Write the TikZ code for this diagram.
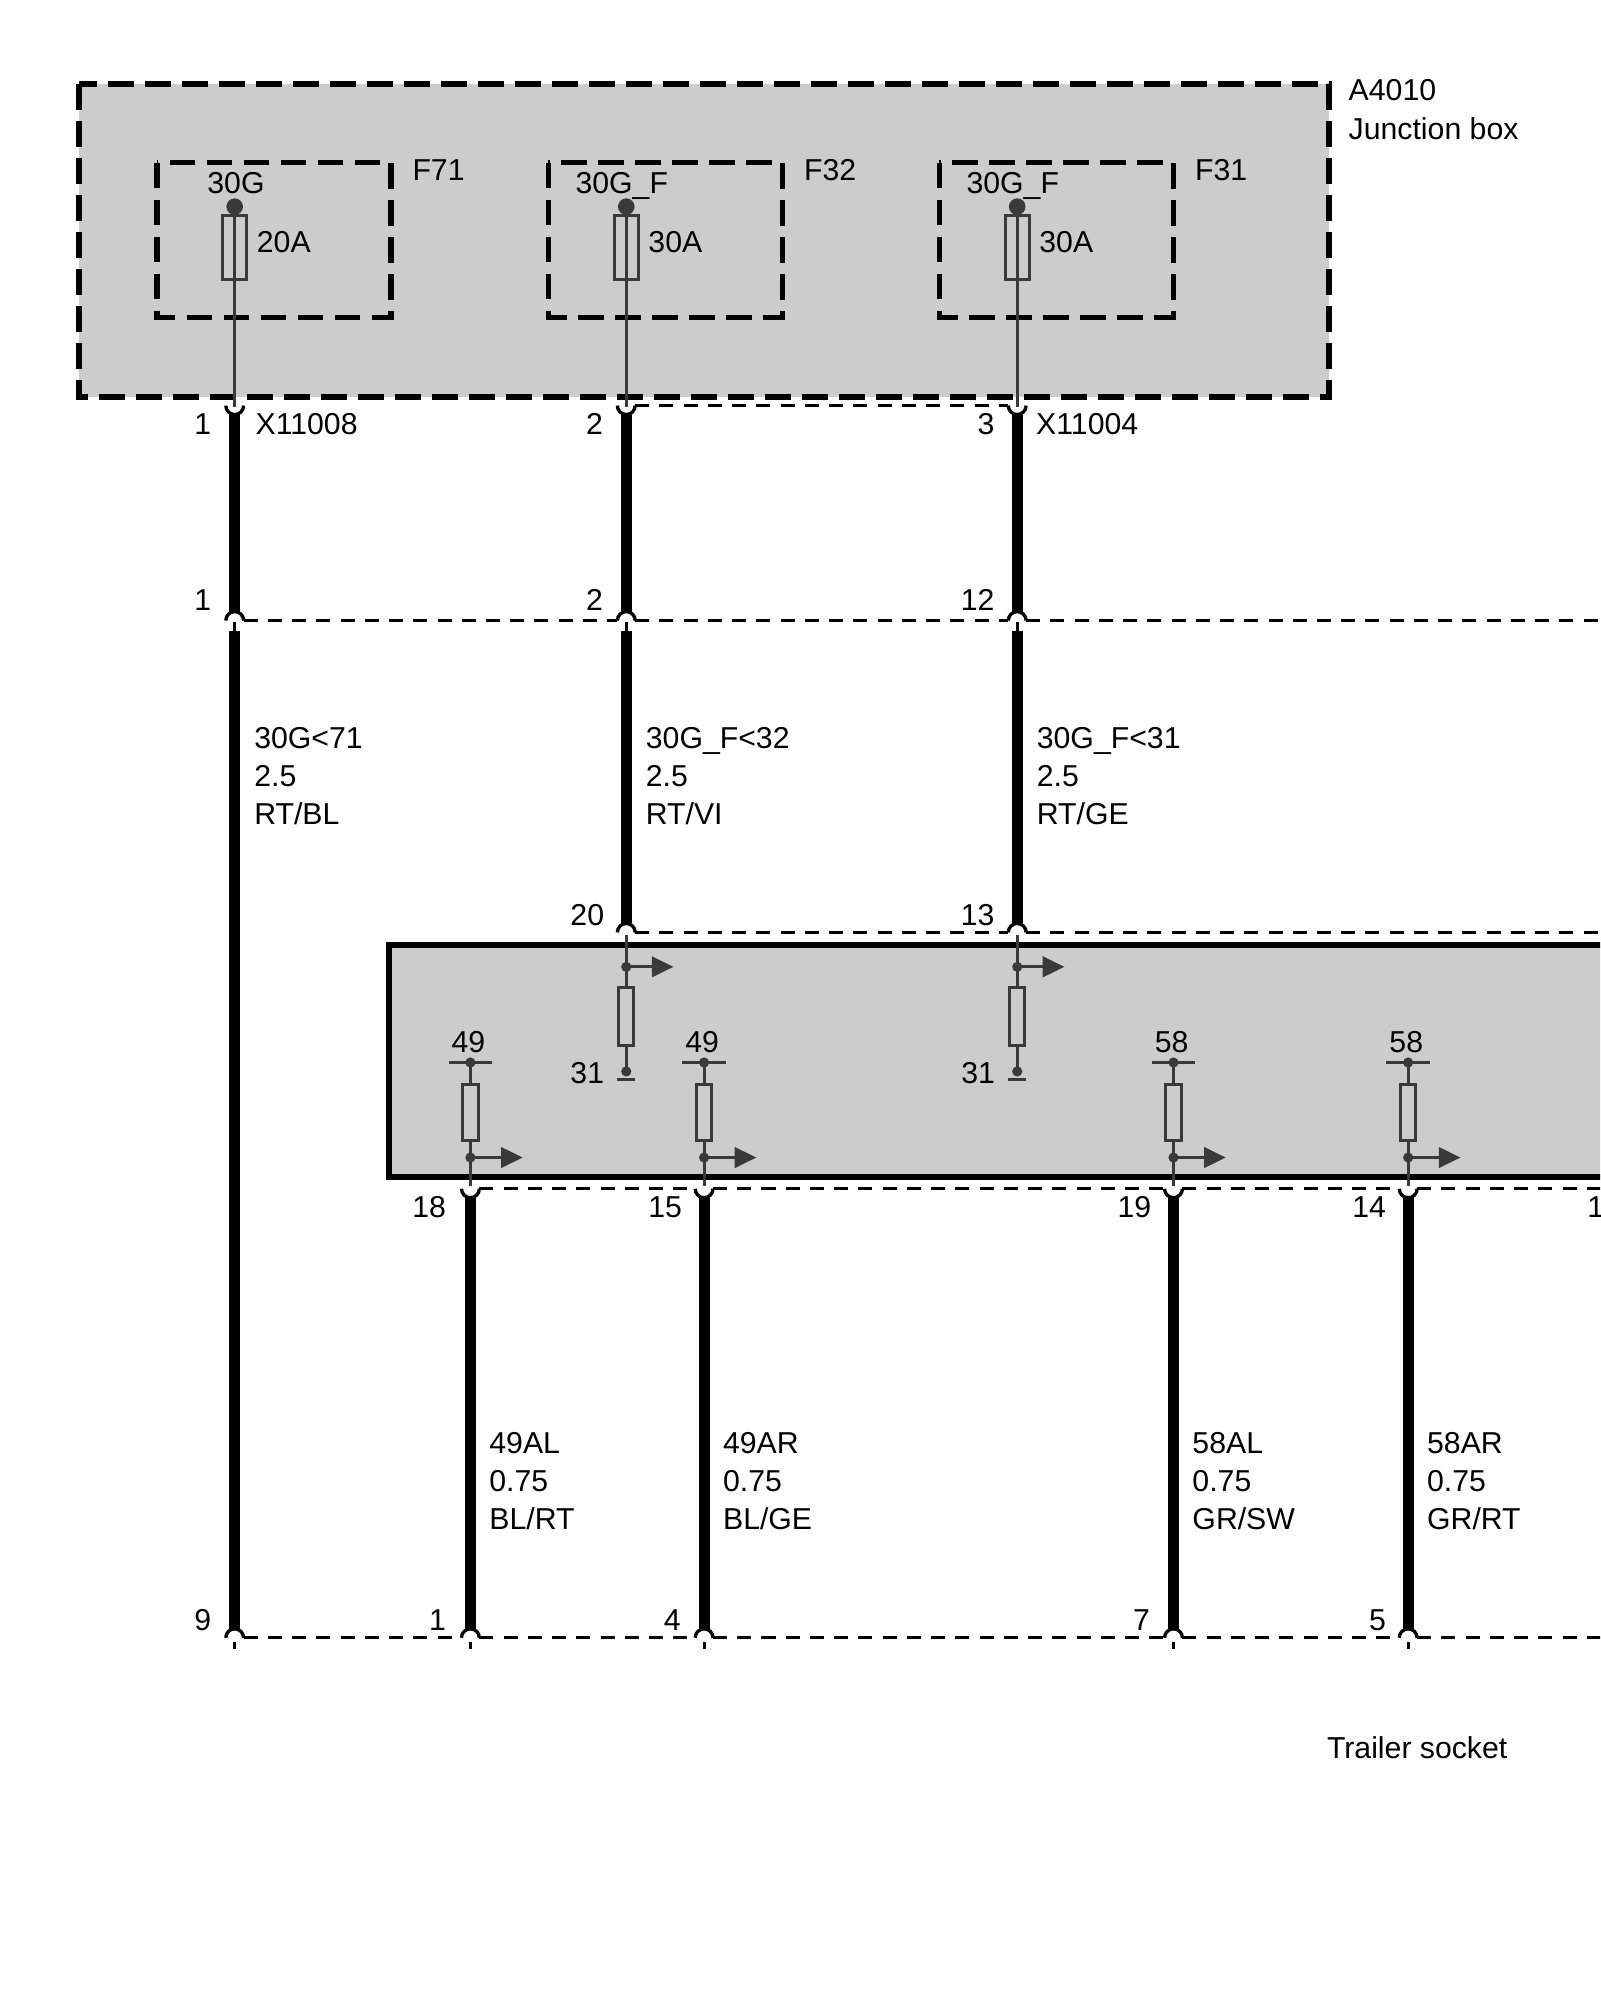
\documentclass[tikz,border=0pt]{standalone}
\usepackage{fontspec}
\setmainfont{Liberation Sans}
\usetikzlibrary{arrows.meta}
\definecolor{boxgray}{HTML}{CCCCCC}
\definecolor{wiregray}{HTML}{3A3A3A}
\tikzset{
  femalepin/.pic={\draw[line width=1.3pt, black] (-7,0) arc[start angle=180,end angle=360,radius=3.5pt];},
  malepin/.pic={\draw[line width=1.3pt, black] (-7,0) arc[start angle=180,end angle=0,radius=3.5pt];}
}
\begin{document}
\begin{tikzpicture}[x=0.5pt,y=-0.5pt,
  font=\fontsize{11.85pt}{15pt}\selectfont,
  lbl/.style={inner sep=0pt, anchor=base west},
  lblr/.style={inner sep=0pt, anchor=base east},
  lblc/.style={inner sep=0pt, anchor=base},
  thickwire/.style={line width=4.25pt, black},
  thinwire/.style={line width=1.15pt, wiregray},
  pinline/.style={line width=1.2pt, black},
  conndash/.style={line width=1.25pt, black, dash pattern=on 5.5pt off 4pt},
  boxdash/.style={line width=2.25pt, black, dash pattern=on 10pt off 4.5pt},
  resist/.style={line width=1.15pt, draw=wiregray, fill=boxgray},
  jdot/.style={circle, fill=wiregray, inner sep=0pt, minimum size=4pt},
  fdot/.style={circle, fill=wiregray, inner sep=0pt, minimum size=6.5pt},
  outarrow/.style={line width=1.15pt, draw=wiregray, -{Triangle[length=8.5pt,width=8pt]}},
]
\clip (0,0) rectangle (1254.4,1568);
\fill[white] (0,0) rectangle (1254.4,1568);

% ---------------- junction box A4010
\fill[boxgray] (62,66) rectangle (1042,311);
\draw[boxdash] (62,66) rectangle (1042,311);
\node[lbl] (a4010) at (1057,78.5) {A4010};
\node[lbl] (jbox) at (1057,109.5) {Junction box};

\foreach \n/\x/\f/\amp in {a/184/F71/20A, b/491/F32/30A, c/797.5/F31/30A}{
  \draw[boxdash] (\x-61,127.5) rectangle (\x+122.5,249);
  \node[lbl] (lab\n) at (\x+139,141.5) {\f};
  \coordinate (fz\n) at (\x,162);
  \coordinate (st\n) at (\x,319);
  \draw[thinwire] (fz\n) -- (st\n);
  \draw[line width=1.15pt, draw=wiregray] (\x-9.5,169) rectangle (\x+9.5,219);
  \node[fdot] (fd\n) at (fz\n) {};
  \node[lbl] (amp\n) at (\x+17,198) {\amp};
  \pic at (\x,318) {femalepin};
  \coordinate (pt\n) at (\x,325);
  \coordinate (pm\n) at (\x,480);
  \draw[thickwire] (pt\n) -- (pm\n);
  \pic at (\x,486.5) {malepin};
  \draw[pinline] (\x,488) -- (\x,495);
}
\node[lblc] (ta) at (185,151.5) {30G};
\node[lblc] (tb) at (487.5,151.5) {30G\_F};
\node[lblc] (tc) at (794,151.5) {30G\_F};

% connector X11008 / X11004
\node[lblr] (p1) at (166,340.5) {1};
\node[lbl] (x11008) at (200,340.5) {X11008};
\node[lblr] (p2) at (473,340.5) {2};
\node[lblr] (p3) at (780,340.5) {3};
\node[lbl] (x11004) at (812,340.5) {X11004};
\draw[conndash] (498,318) -- (790.5,318);

% second connector row
\node[lblr] (q1) at (166,478.5) {1};
\node[lblr] (q2) at (473,478.5) {2};
\node[lblr] (q12) at (780,478.5) {12};
\draw[conndash] (191,486.5) -- (484,486.5);
\draw[conndash] (498,486.5) -- (790.5,486.5);
\draw[conndash] (804.5,486.5) -- (1260,486.5);

% long wires
\coordinate (wa1) at (184,495);
\coordinate (wa2) at (184,1277);
\draw[thickwire] (wa1) -- (wa2);
\coordinate (wb1) at (491,495);
\coordinate (wb2) at (491,724);
\draw[thickwire] (wb1) -- (wb2);
\coordinate (wc1) at (797.5,495);
\coordinate (wc2) at (797.5,724);
\draw[thickwire] (wc1) -- (wc2);

% wire labels upper
\node[lbl] at (199,586.5) {30G<71};
\node[lbl] at (199,616.5) {2.5};
\node[lbl] at (199,646.5) {RT/BL};
\node[lbl] at (506,586.5) {30G\_F<32};
\node[lbl] at (506,616.5) {2.5};
\node[lbl] at (506,646.5) {RT/VI};
\node[lbl] at (812.5,586.5) {30G\_F<31};
\node[lbl] at (812.5,616.5) {2.5};
\node[lbl] at (812.5,646.5) {RT/GE};

% connector row 20 / 13
\pic at (491,731) {malepin};
\pic at (797.5,731) {malepin};
\node[lblr] (r20) at (474,725.5) {20};
\node[lblr] (r13) at (780,725.5) {13};
\draw[conndash] (498,731) -- (790.5,731);
\draw[conndash] (804.5,731) -- (1260,731);

% ---------------- control unit box
\draw[line width=2.25pt, fill=boxgray] (305,741) rectangle (1275,923);

\foreach \n/\x in {b/491, c/797.5}{
  \coordinate (ua\n) at (\x,733);
  \coordinate (ub\n) at (\x,840);
  \draw[thinwire] (ua\n) -- (ub\n);
  \draw[resist] (\x-6,774) rectangle (\x+6,820);
  \node[jdot] (ud\n) at (\x,758) {};
  \coordinate (ue\n) at (\x+37,758);
  \draw[outarrow] (ud\n.center) -- (ue\n);
  \node[jdot] (ug\n) at (ub\n) {};
  \draw[thinwire] (\x-7,846) -- (\x+7,846);
  \node[lblr] (g\n) at (\x-17,849.5) {31};
}

\foreach \n/\x/\t in {d/368.8/49, e/552/49, f/920/58, g/1104/58}{
  \node[lblc] (lt\n) at (\x-1.5,825.5) {\t};
  \draw[thinwire] (\x-17,833) -- (\x+17,833);
  \coordinate (la\n) at (\x,833);
  \coordinate (lb\n) at (\x,930);
  \draw[thinwire] (la\n) -- (lb\n);
  \draw[resist] (\x-6,850) rectangle (\x+6,894);
  \node[jdot] (lk\n) at (la\n) {};
  \node[jdot] (lc\n) at (\x,907.5) {};
  \coordinate (le\n) at (\x+41,907.5);
  \draw[outarrow] (lc\n.center) -- (le\n);
  \pic at (\x,932) {femalepin};
  \coordinate (lw\n) at (\x,939);
  \coordinate (lz\n) at (\x,1277);
  \draw[thickwire] (lw\n) -- (lz\n);
  \pic at (\x,1284) {malepin};
  \draw[pinline] (\x,1287) -- (\x,1293);
}
\pic at (184,1284) {malepin};
\draw[pinline] (184,1287) -- (184,1293);

% pin labels lower connector of box
\node[lblr] (s18) at (350,954.5) {18};
\node[lblr] (s15) at (535,954.5) {15};
\node[lblr] (s19) at (903,954.5) {19};
\node[lblr] (s14) at (1087,954.5) {14};
\node[lbl] (s1x) at (1244,954.5) {1};
\draw[conndash] (375.8,932) -- (545,932);
\draw[conndash] (559,932) -- (913,932);
\draw[conndash] (927,932) -- (1097,932);
\draw[conndash] (1111,932) -- (1260,932);

% wire labels lower
\node[lbl] at (383.3,1139.5) {49AL};
\node[lbl] at (383.3,1169.5) {0.75};
\node[lbl] at (383.3,1199.5) {BL/RT};
\node[lbl] at (566.5,1139.5) {49AR};
\node[lbl] at (566.5,1169.5) {0.75};
\node[lbl] at (566.5,1199.5) {BL/GE};
\node[lbl] at (934.5,1139.5) {58AL};
\node[lbl] at (934.5,1169.5) {0.75};
\node[lbl] at (934.5,1199.5) {GR/SW};
\node[lbl] at (1118.5,1139.5) {58AR};
\node[lbl] at (1118.5,1169.5) {0.75};
\node[lbl] at (1118.5,1199.5) {GR/RT};

% trailer socket connector
\node[lblr] (b9) at (166,1278.5) {9};
\node[lblr] (b1) at (350,1278.5) {1};
\node[lblr] (b4) at (534,1278.5) {4};
\node[lblr] (b7) at (902,1278.5) {7};
\node[lblr] (b5) at (1087,1278.5) {5};
\draw[conndash] (191,1284) -- (361.8,1284);
\draw[conndash] (375.8,1284) -- (545,1284);
\draw[conndash] (559,1284) -- (913,1284);
\draw[conndash] (927,1284) -- (1097,1284);
\draw[conndash] (1111,1284) -- (1260,1284);
\node[lbl] (trailer) at (1040,1378.5) {Trailer socket};
\end{tikzpicture}
\end{document}
